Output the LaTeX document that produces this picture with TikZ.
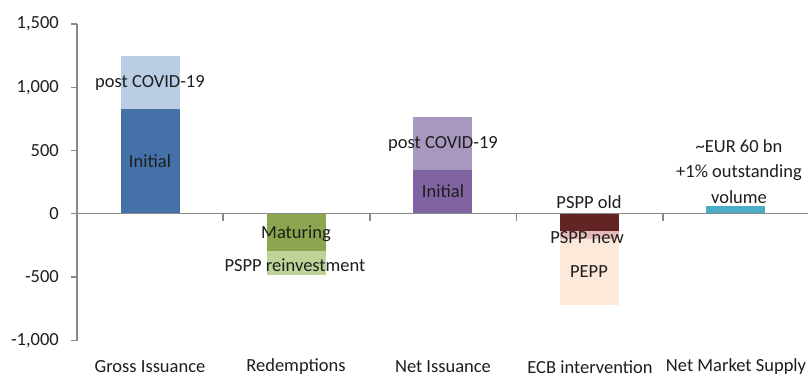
\documentclass[tikz,border=0pt]{standalone}
\usepackage{fontspec}
\setmainfont{Carlito}
\definecolor{axisgrey}{HTML}{898989}
\definecolor{txt}{HTML}{1E1E1E}
\definecolor{giInit}{HTML}{4371A8}
\definecolor{giPost}{HTML}{B9CDE5}
\definecolor{rdMat}{HTML}{8CA54E}
\definecolor{rdReinv}{HTML}{BDD398}
\definecolor{niInit}{HTML}{8064A2}
\definecolor{niPost}{HTML}{A898C0}
\definecolor{ecbOld}{HTML}{632523}
\definecolor{ecbNew}{HTML}{E6B9B8}
\definecolor{ecbPepp}{HTML}{FDE9D9}
\definecolor{nmsCol}{HTML}{4BACC6}
\begin{document}
\begin{tikzpicture}[x=1bp,y=-1bp,
  lbl/.style={text=txt,inner sep=0pt,font=\fontsize{18.5bp}{25.5bp}\selectfont},
  ylbl/.style={lbl,anchor=east},
  axisline/.style={draw=axisgrey,line width=1.6bp},
  tickline/.style={draw=axisgrey,line width=1.4bp}]
\useasboundingbox[fill=white] (0,0) rectangle (808,378);
% bars
\fill[giInit] (121,213.5) rectangle (180,108.7);
\fill[giPost] (121,108.7) rectangle (180,56);
\fill[rdMat] (267,213.5) rectangle (326,251);
\fill[rdReinv] (267,251) rectangle (326,274.7);
\fill[niInit] (413,213.5) rectangle (472,170);
\fill[niPost] (413,170) rectangle (472,116.7);
\fill[ecbOld] (560,213.5) rectangle (619,230.7);
\fill[ecbNew] (560,230.7) rectangle (619,239.3);
\fill[ecbPepp] (560,239.3) rectangle (619,304.7);
\fill[nmsCol] (706,206) rectangle (765,213.5);
% axes
\coordinate (ytop) at (77,24);
\coordinate (ybot) at (77,340.7);
\coordinate (xleft) at (77,213.5);
\coordinate (xright) at (808,213.5);
\draw[axisline] (ytop) -- (ybot);
\draw[axisline] (xleft) -- (xright);
\foreach \v/\t in {24/{1,500},87.4/{1,000},150.7/500,213.5/0,277/-500,340.7/{-1,000}}{
  \draw[tickline] (71,\v) -- (77,\v);
  \node[ylbl] at (59,\v) {\t};
}
\foreach \xx in {223,370,516.7,663}{
  \draw[tickline] (\xx,213.5) -- (\xx,220.5);
}
% category labels
\node[lbl] (cGI) at (150,367) {Gross Issuance};
\node[lbl] (cRD) at (296,367) {Redemptions};
\node[lbl] (cNI) at (443,367) {Net Issuance};
\node[lbl] (cECB) at (590,367) {ECB intervention};
\node[lbl] (cNMS) at (736,367) {Net Market Supply};
% bar labels
\node[lbl] (giPostL) at (150,83) {post COVID-19};
\node[lbl] (giInitL) at (150,161) {Initial};
\node[lbl] (rdMatL) at (296,234) {Maturing};
\node[lbl] (rdReL) at (295,265) {PSPP reinvestment};
\node[lbl] (niPostL) at (443,144) {post COVID-19};
\node[lbl] (niInitL) at (443,191) {Initial};
\node[lbl] (ecbOldL) at (589,202) {PSPP old};
\node[lbl] (ecbNewL) at (587,238) {PSPP new};
\node[lbl] (ecbPeppL) at (589,272) {PEPP};
\node[lbl,align=center] (nmsL) at (739,171.5) {\textasciitilde EUR 60 bn\\+1\% outstanding\\volume};
\end{tikzpicture}
\end{document}
